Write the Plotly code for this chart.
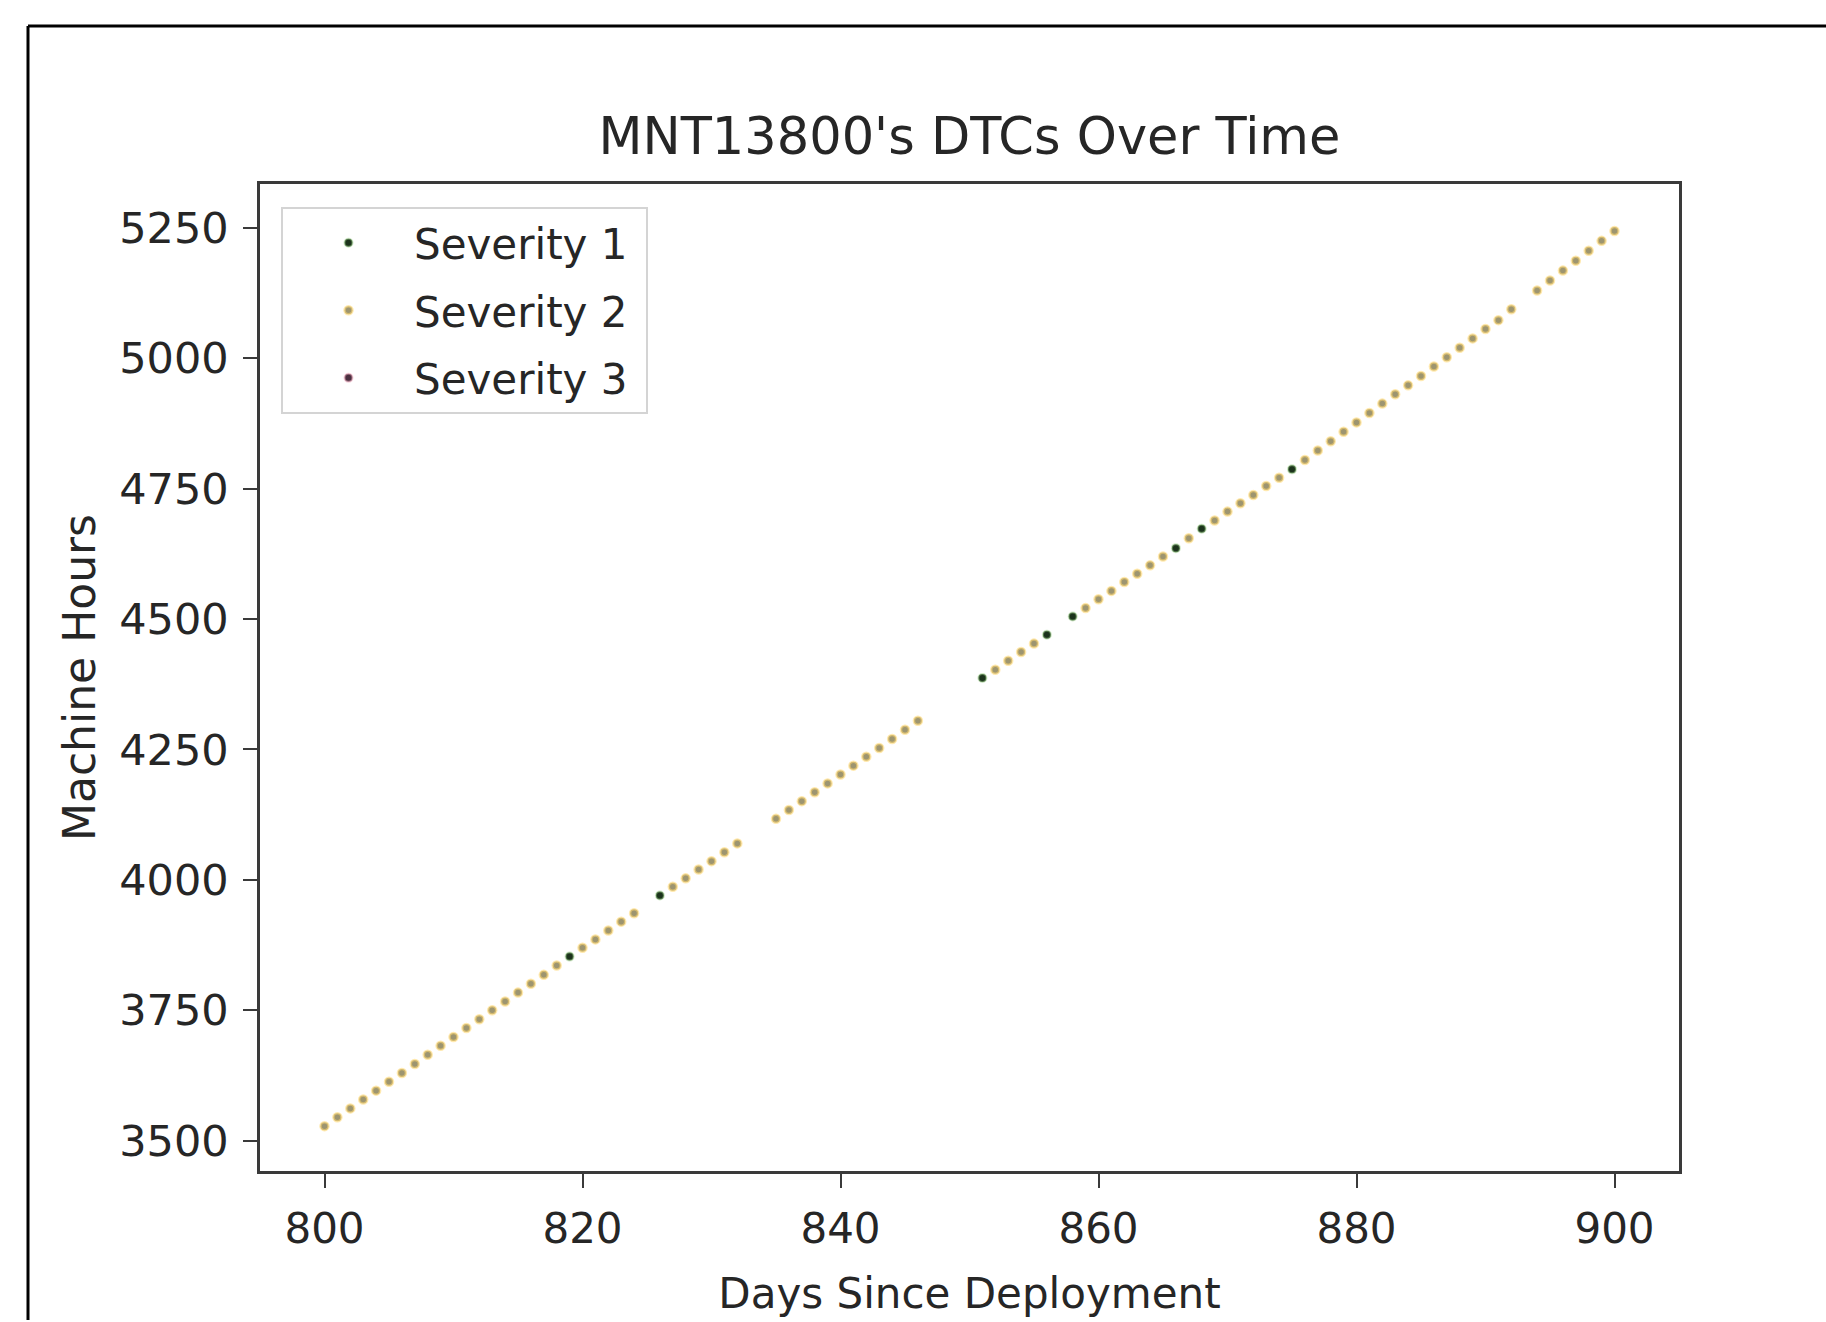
import plotly.graph_objects as go

# ---- data ----
sev1_days = [819, 826, 851, 856, 858, 866, 868, 875]
sev1_hours = [3853, 3970, 4387, 4470, 4505, 4636, 4673, 4787]

sev2_days = [800, 801, 802, 803, 804, 805, 806, 807, 808, 809, 810, 811, 812,
             813, 814, 815, 816, 817, 818, 820, 821, 822, 823, 824,
             827, 828, 829, 830, 831, 832,
             835, 836, 837, 838, 839, 840, 841, 842, 843, 844, 845, 846,
             852, 853, 854, 855,
             859, 860, 861, 862, 863, 864, 865, 867,
             869, 870, 871, 872, 873, 874,
             876, 877, 878, 879, 880, 881, 882, 883, 884, 885, 886, 887, 888,
             889, 890, 891, 892,
             894, 895, 896, 897, 898, 899, 900]
sev2_hours = [3528, 3545, 3562, 3579, 3596, 3613, 3630, 3647, 3665, 3682, 3699, 3716, 3733,
              3750, 3767, 3784, 3801, 3818, 3836, 3870, 3886, 3903, 3920, 3936,
              3987, 4003, 4020, 4036, 4053, 4070,
              4117, 4134, 4151, 4168, 4185, 4202, 4219, 4236, 4253, 4270, 4288, 4305,
              4403, 4420, 4437, 4453,
              4521, 4538, 4554, 4571, 4587, 4603, 4620, 4655,
              4689, 4706, 4722, 4738, 4755, 4771,
              4805, 4823, 4841, 4859, 4877, 4895, 4913, 4931, 4948, 4966, 4984, 5002, 5020,
              5038, 5056, 5073, 5094,
              5130, 5149, 5168, 5187, 5206, 5225, 5244]

# Severity 3 has no events in this window (legend entry only)
sev3_days = []
sev3_hours = []

x_ticks = [800, 820, 840, 860, 880, 900]
y_ticks = [3500, 3750, 4000, 4250, 4500, 4750, 5000, 5250]

FONT = "DejaVu Sans"
TXT = "#262626"
AX = "#3a3a3a"

fig = go.Figure()
fig.add_trace(go.Scatter(x=sev1_days, y=sev1_hours, mode="markers", name="Severity 1\u00a0",
                         legendgroup="s1",
                         marker=dict(size=8, color="#1c331c",
                                     line=dict(width=2, color="rgba(150,205,130,0.45)"))))
fig.add_trace(go.Scatter(x=sev2_days, y=sev2_hours, mode="markers", name="Severity 2\u00a0",
                         legendgroup="s2",
                         marker=dict(size=8, color="#9d9570",
                                     line=dict(width=2.5, color="rgba(255,215,110,0.55)"))))
fig.add_trace(go.Scatter(x=sev3_days if sev3_days else [None],
                         y=sev3_hours if sev3_hours else [None],
                         mode="markers", name="Severity 3\u00a0",
                         legendgroup="s3", showlegend=True,
                         marker=dict(size=8, color="#4a3040",
                                     line=dict(width=2, color="rgba(240,170,190,0.5)"))))

L, R, T, B = 260, 1679, 184, 1177
W, H = 1826, 1322

def px_x(p):
    return (p - L) / (R - L)

def px_y(p):
    return (B - p) / (B - T)

fig.update_layout(
    width=W, height=H, autosize=False,
    margin=dict(l=L, r=W - R, t=T, b=H - B),
    paper_bgcolor="white", plot_bgcolor="white",
    font=dict(family=FONT, size=42, color=TXT),
    title=dict(text="MNT13800's DTCs Over Time", x=0.5, xref="paper", xanchor="center",
               y=1 - 136 / H, yref="container", yanchor="middle",
               font=dict(family=FONT, size=51, color=TXT)),
    showlegend=True,
    legend=dict(x=px_x(281), y=px_y(207), xanchor="left", yanchor="top",
                bgcolor="white", bordercolor="#d4d4d4", borderwidth=2,
                font=dict(family=FONT, size=42, color=TXT),
                itemwidth=121, tracegroupgap=10, traceorder="grouped"),
    xaxis=dict(range=[795, 905], tickvals=x_ticks, ticktext=[str(v) for v in x_ticks],
               showgrid=False, zeroline=False, showline=True, mirror=True,
               linecolor=AX, linewidth=2.5,
               ticks="outside", ticklen=14, tickwidth=2, tickcolor=AX,
               ticklabelstandoff=5,
               tickfont=dict(family=FONT, size=42, color=TXT),
               title=dict(text="Days Since Deployment", standoff=27,
                          font=dict(family=FONT, size=42, color=TXT))),
    yaxis=dict(range=[3442, 5334], tickvals=y_ticks, ticktext=[str(v) for v in y_ticks],
               showgrid=False, zeroline=False, showline=True, mirror=True,
               linecolor=AX, linewidth=2.5,
               ticks="outside", ticklen=14, tickwidth=2, tickcolor=AX,
               ticklabelstandoff=6,
               tickfont=dict(family=FONT, size=43, color=TXT),
               title=dict(text="Machine Hours", standoff=10,
                          font=dict(family=FONT, size=44, color=TXT))),
    shapes=[
        dict(type="line", xref="paper", yref="paper",
             x0=px_x(28), x1=px_x(W + 5), y0=px_y(25), y1=px_y(25),
             line=dict(color="black", width=3)),
        dict(type="line", xref="paper", yref="paper",
             x0=px_x(28), x1=px_x(28), y0=px_y(25), y1=px_y(H + 5),
             line=dict(color="black", width=3)),
    ],
)

fig.write_html("out.html", config={"displayModeBar": False},
               post_script="document.body.style.margin='0';document.body.style.overflow='hidden';")
